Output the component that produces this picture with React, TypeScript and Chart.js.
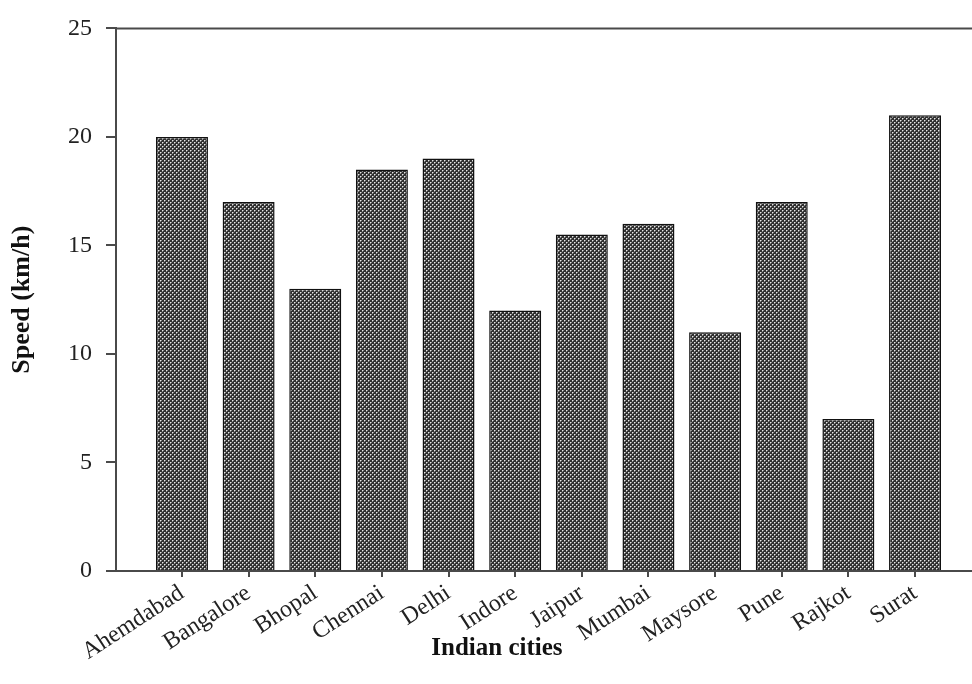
import React, { useEffect, useRef } from "react";
import { Chart, registerables } from "chart.js";

Chart.register(...registerables);

const cities = ["Ahemdabad", "Bangalore", "Bhopal", "Chennai", "Delhi", "Indore", "Jaipur", "Mumbai", "Maysore", "Pune", "Rajkot", "Surat"];
const speeds = [20, 17, 13, 18.5, 19, 12, 15.5, 16, 11, 17, 7, 21];
const yMin = 0;
const yMax = 25;
const yStep = 5;
const xTitle = "Indian cities";
const yTitle = "Speed (km/h)";

const FONT = "'Liberation Serif', 'Times New Roman', serif";

function makePattern(): CanvasPattern | string {
  const c = document.createElement("canvas");
  c.width = 4;
  c.height = 4;
  const ctx = c.getContext("2d");
  if (!ctx) return "#555";
  ctx.fillStyle = "#303030";
  ctx.fillRect(0, 0, 4, 4);
  ctx.fillStyle = "#e6e6e6";
  ctx.fillRect(0, 0, 1, 1);
  ctx.fillRect(2, 2, 1, 1);
  ctx.fillStyle = "#8a8a8a";
  ctx.fillRect(1, 0, 1, 1);
  ctx.fillRect(0, 1, 1, 1);
  ctx.fillRect(3, 2, 1, 1);
  ctx.fillRect(2, 3, 1, 1);
  const p = ctx.createPattern(c, "repeat");
  return p || "#555";
}

const frameAndTitle = {
  id: "frameAndTitle",
  afterDraw(chart: any) {
    const { ctx, chartArea } = chart;
    ctx.save();
    ctx.strokeStyle = "#4a4a4a";
    ctx.lineWidth = 2;
    ctx.beginPath();
    ctx.moveTo(chartArea.left, chartArea.top);
    ctx.lineTo(chartArea.right, chartArea.top);
    ctx.stroke();
    ctx.fillStyle = "#111";
    ctx.font = `bold 25px ${FONT}`;
    ctx.textAlign = "center";
    ctx.textBaseline = "middle";
    const cx = chartArea.left + (chartArea.right - chartArea.left) * 0.445;
    ctx.fillText(xTitle, cx, chart.height - 35);
    ctx.restore();
  },
};

export default function App() {
  const ref = useRef<HTMLCanvasElement | null>(null);
  useEffect(() => {
    if (!ref.current) return;
    const chart = new Chart(ref.current, {
      type: "bar",
      data: {
        datasets: [
          {
            data: speeds.map((v, i) => ({ x: i, y: v })),
            backgroundColor: makePattern() as any,
            borderColor: "#111",
            borderWidth: 1.5,
            barPercentage: 0.78,
            categoryPercentage: 1,
          },
        ],
      },
      options: {
        responsive: false,
        animation: false,
        layout: { padding: { top: 27, right: 0, left: 0, bottom: 0 } },
        plugins: { legend: { display: false }, tooltip: { enabled: false } },
        scales: {
          x: {
            type: "linear",
            offset: false,
            min: -0.99,
            max: 11.855,
            afterBuildTicks: (scale: any) => {
              scale.ticks = cities.map((_, i) => ({ value: i }));
            },
            afterFit: (scale: any) => {
              scale.height = 113;
            },
            ticks: {
              autoSkip: false,
              maxRotation: 33,
              minRotation: 33,
              padding: 2,
              color: "#222",
              font: { family: FONT, size: 24 },
              callback: (v: any) => cities[v as number] ?? "",
            },
            grid: { display: true, offset: false, drawOnChartArea: false, tickLength: 6, color: "#4a4a4a", lineWidth: 2 },
            border: { display: true, color: "#4a4a4a", width: 2 },
            title: { display: false },
          },
          y: {
            min: yMin,
            max: yMax,
            afterFit: (scale: any) => {
              scale.width = 116;
            },
            ticks: {
              stepSize: yStep,
              padding: 14,
              color: "#222",
              font: { family: FONT, size: 24 },
            },
            grid: { display: true, drawOnChartArea: false, tickLength: 10, color: "#4a4a4a", lineWidth: 2 },
            border: { display: true, color: "#4a4a4a", width: 2 },
            title: {
              display: true,
              text: yTitle,
              color: "#111",
              font: { family: FONT, size: 26, weight: "bold" },
              padding: { top: 7, bottom: 0 },
            },
          },
        },
      },
      plugins: [frameAndTitle],
    });
    return () => chart.destroy();
  }, []);
  return (
    <div style={{ position: "fixed", left: 0, top: 0, width: 972, height: 684, background: "#fff" }}>
      <canvas ref={ref} width={972} height={684} />
    </div>
  );
}
